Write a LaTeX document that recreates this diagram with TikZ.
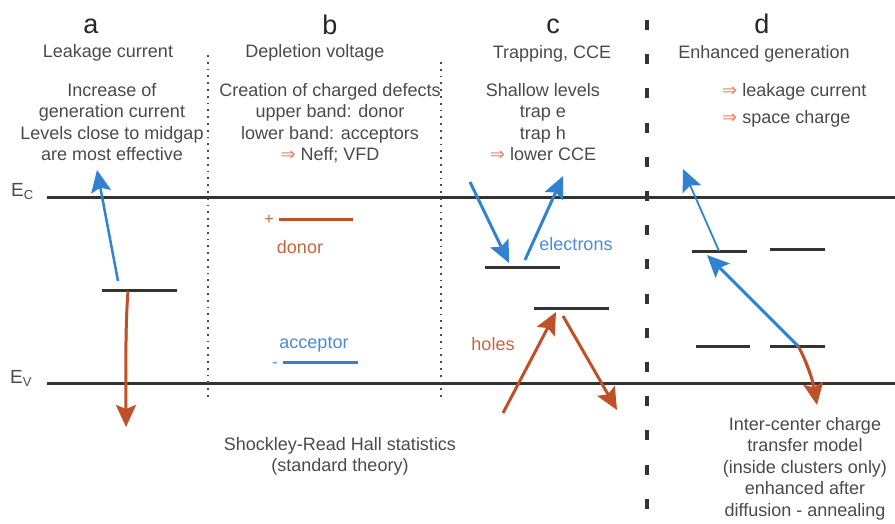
\documentclass[tikz,border=0pt]{standalone}
\usepackage{fontspec}
\setmainfont{Liberation Sans}
\newfontfamily\dejavu{DejaVu Sans}
\usetikzlibrary{arrows.meta}
\definecolor{txt}{HTML}{4A4A4A}
\definecolor{bandc}{HTML}{333333}
\definecolor{eblue}{HTML}{3282D2}
\definecolor{hred}{HTML}{BF5028}
\definecolor{orng}{HTML}{E6825F}
\definecolor{donc}{HTML}{C8643C}
\definecolor{accc}{HTML}{468CDC}
\newcommand{\impl}{{\dejavu\color{orng}⇒}}
\begin{document}
\begin{tikzpicture}[x=1pt,y=-1pt,
  every node/.style={inner sep=0pt, text=txt, font=\fontsize{18}{21.5}\selectfont},
  bigletter/.style={font=\fontsize{27}{30}\selectfont, text=black!85, anchor=base},
  head/.style={anchor=base},
  block/.style={anchor=north, align=center},
  band/.style={draw=bandc, line width=3pt},
  level/.style={draw=bandc, line width=3pt},
  sep/.style={draw=txt, line width=1.8pt, dash pattern=on 1.8pt off 5pt},
  bigsep/.style={draw=bandc, line width=4.5pt, dash pattern=on 10pt off 24.2pt},
  tip/.style={-{Stealth[length=22pt,width=20pt,inset=4pt]}},
  earr/.style={tip, draw=eblue, fill=eblue, line width=3pt},
  earrthin/.style={tip, draw=eblue, fill=eblue, line width=1.8pt},
  harr/.style={tip, draw=hred, fill=hred, line width=3pt},
  lab/.style={anchor=base}
]
\useasboundingbox (0,0) rectangle (895,523);

% bands
\coordinate (ec0) at (47,197); \coordinate (ec1) at (895,197);
\coordinate (ev0) at (47,383); \coordinate (ev1) at (895,383);
\draw[band] (ec0) -- (ec1);
\draw[band] (ev0) -- (ev1);
\node[anchor=base west, font=\fontsize{19}{19}\selectfont] (ecl) at (11,196) {E\raisebox{-0.35ex}{\fontsize{13}{13}\selectfont C}};
\node[anchor=base west, font=\fontsize{19}{19}\selectfont] (evl) at (10,383) {E\raisebox{-0.35ex}{\fontsize{13}{13}\selectfont V}};

% separators
\coordinate (s1a) at (208,55); \coordinate (s1b) at (208,400);
\coordinate (s2a) at (441,62); \coordinate (s2b) at (441,400);
\coordinate (s3a) at (647,20); \coordinate (s3b) at (647,523);
\draw[sep] (s1a) -- (s1b);
\draw[sep] (s2a) -- (s2b);
\draw[bigsep] (s3a) -- (s3b);

% titles
\node[bigletter] (ta) at (91,33) {a};
\node[bigletter] (tb) at (330,34) {b};
\node[bigletter] (tc) at (553,33) {c};
\node[bigletter] (td) at (762,33) {d};
\node[head] (ha) at (108,57) {Leakage current};
\node[head] (hb) at (315,57) {Depletion voltage};
\node[head] (hc) at (552,58) {Trapping, CCE};
\node[head] (hd) at (764,58) {Enhanced generation};

% text blocks
\node[block] (ba) at (112,83) {Increase of\\generation current\\Levels close to midgap\\are most effective};
\node[block] (bb) at (330,83) {Creation of charged defects\\upper band: donor\\lower band: acceptors\\\impl\ Neff; VFD};
\node[block] (bc) at (543,83) {Shallow levels\\trap e\\trap h\\\impl\ lower CCE};
\node[anchor=base west] (bd1) at (722,96) {\impl\ leakage current};
\node[anchor=base west] (bd2) at (722,123) {\impl\ space charge};
\node[block] (srh) at (340,437) {Shockley-Read Hall statistics\\(standard theory)};
\node[block] (ict) at (805,417) {Inter-center charge\\transfer model\\(inside clusters only)\\enhanced after\\diffusion - annealing};

% column a
\coordinate (la0) at (102,290); \coordinate (la1) at (177,290);
\draw[level] (la0) -- (la1);
\coordinate (ae0) at (118,281); \coordinate (ae1) at (97,170);
\draw[earr, line width=2.5pt] (ae0) -- (ae1);
\coordinate (ah0) at (128,291); \coordinate (ah1) at (126,427);
\draw[harr] (ah0) .. controls (125,330) and (126,380) .. (ah1);

% column b
\coordinate (don0) at (279,219); \coordinate (don1) at (353,219);
\draw[draw=hred, line width=3pt] (don0) -- (don1);
\node[anchor=base, text=donc, font=\fontsize{16}{16}\selectfont] (plus) at (269,224) {+};
\node[lab, text=donc] (donor) at (300,253) {donor};
\coordinate (acc0) at (283,362); \coordinate (acc1) at (358,362);
\draw[draw=eblue, line width=3pt] (acc0) -- (acc1);
\node[anchor=base, text=accc, font=\fontsize{16}{16}\selectfont] (minus) at (275,367) {-};
\node[lab, text=accc] (acceptor) at (314,348) {acceptor};

% column c
\coordinate (lce0) at (485,267); \coordinate (lce1) at (560,267);
\coordinate (lch0) at (534,308); \coordinate (lch1) at (609,308);
\draw[level] (lce0) -- (lce1);
\draw[level] (lch0) -- (lch1);
\coordinate (ce0) at (470,182); \coordinate (ce1) at (509,263);
\draw[earr] (ce0) -- (ce1);
\coordinate (ce2) at (525,260); \coordinate (ce3) at (563,176);
\draw[earr] (ce2) -- (ce3);
\coordinate (ch0) at (503,413); \coordinate (ch1) at (556,312);
\draw[harr] (ch0) -- (ch1);
\coordinate (ch2) at (563,316); \coordinate (ch3) at (617,410);
\draw[harr] (ch2) -- (ch3);
\node[lab, text=accc] (electrons) at (576,250) {electrons};
\node[lab, text=donc] (holes) at (493,350) {holes};

% column d
\coordinate (ld1a) at (692,251); \coordinate (ld1b) at (747,251);
\coordinate (ld2a) at (770,249); \coordinate (ld2b) at (825,249);
\coordinate (ld3a) at (696,346); \coordinate (ld3b) at (750,346);
\coordinate (ld4a) at (770,346); \coordinate (ld4b) at (825,346);
\draw[level] (ld1a) -- (ld1b);
\draw[level] (ld2a) -- (ld2b);
\draw[level] (ld3a) -- (ld3b);
\draw[level] (ld4a) -- (ld4b);
\coordinate (de0) at (719,251); \coordinate (de1) at (683,169);
\draw[earrthin] (de0) -- (de1);
\coordinate (de2) at (798,346); \coordinate (de3) at (707,255);
\draw[earr] (de2) -- (de3);
\coordinate (dh1) at (817,405);
\draw[harr] (de2) .. controls (804,356) and (812,376) .. (dh1);
\end{tikzpicture}
\end{document}
